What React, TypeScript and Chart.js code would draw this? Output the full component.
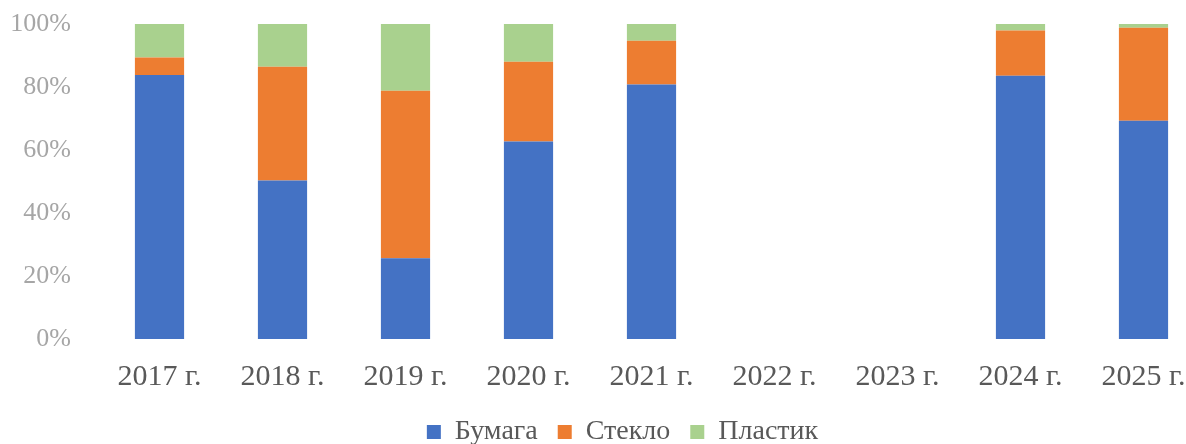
import React, { useEffect, useRef } from "react";
import { Chart, registerables } from "chart.js";

Chart.register(...registerables);

const categories = ["2017 г.", "2018 г.", "2019 г.", "2020 г.", "2021 г.", "2022 г.", "2023 г.", "2024 г.", "2025 г."];
const paper = [83.8, 50.3, 25.6, 62.7, 80.8, null, null, 83.6, 69.3];
const glass = [5.6, 36.1, 53.2, 25.3, 13.9, null, null, 14.3, 29.5];
const plastic = [10.6, 13.6, 21.2, 12.0, 5.3, null, null, 2.1, 1.2];
const seriesNames = ["Бумага", "Стекло", "Пластик"];
const seriesColors = ["#4472C4", "#ED7D31", "#A9D18E"];
const yTicks = [0, 20, 40, 60, 80, 100];

const FONT = "'Liberation Serif', 'Times New Roman', serif";

const legendShift = {
  id: "legendShift",
  afterLayout(chart: any) {
    const l = chart.legend;
    if (l) {
      l.left += 20;
      l.right += 20;
    }
  },
};

export default function App() {
  const canvasRef = useRef<HTMLCanvasElement | null>(null);

  useEffect(() => {
    const canvas = canvasRef.current;
    if (!canvas) return;
    const chart = new Chart(canvas, {
      type: "bar",
      data: {
        labels: categories,
        datasets: [paper, glass, plastic].map((d, i) => ({
          label: seriesNames[i],
          data: d,
          backgroundColor: seriesColors[i],
          borderWidth: 0,
          categoryPercentage: 1,
          barPercentage: 0.4,
        })),
      },
      plugins: [legendShift],
      options: {
        responsive: false,
        animation: false,
        layout: { padding: { left: 0, right: 31, top: 24, bottom: 0 } },
        plugins: {
          tooltip: { enabled: false },
          legend: {
            position: "bottom",
            labels: {
              boxWidth: 14,
              boxHeight: 14,
              padding: 20,
              color: "#595959",
              font: { family: FONT, size: 28 },
            },
          },
        },
        scales: {
          x: {
            stacked: true,
            grid: { display: false, drawTicks: false },
            border: { display: false },
            ticks: {
              color: "#595959",
              font: { family: FONT, size: 30 },
              padding: 20,
              maxRotation: 0,
              autoSkip: false,
            },
            afterFit: (scale: any) => {
              scale.height = 59;
            },
          },
          y: {
            stacked: true,
            min: 0,
            max: 100,
            grid: { display: false, drawTicks: true, tickLength: 27 },
            border: { display: false },
            afterBuildTicks: (scale: any) => {
              scale.ticks = yTicks.map((v) => ({ value: v }));
            },
            afterFit: (scale: any) => {
              scale.width = 98;
            },
            ticks: {
              color: "#A6A6A6",
              font: { family: FONT, size: 26 },
              padding: 0,
              callback: (v: any) => v + "%",
            },
          },
        },
      },
    });
    return () => chart.destroy();
  }, []);

  return (
    <div style={{ position: "absolute", left: 0, top: 0, width: 1186, height: 444, overflow: "hidden", background: "#fff" }}>
      <canvas ref={canvasRef} width={1236} height={456} style={{ display: "block" }} />
    </div>
  );
}
